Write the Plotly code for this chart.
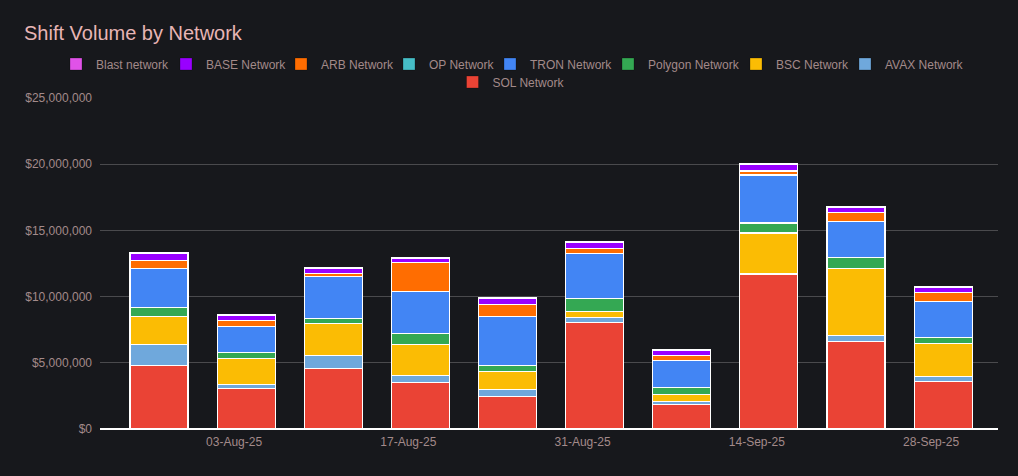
import plotly.graph_objects as go

weeks = ["27-Jul-25", "03-Aug-25", "10-Aug-25", "17-Aug-25", "24-Aug-25",
         "31-Aug-25", "07-Sep-25", "14-Sep-25", "21-Sep-25", "28-Sep-25"]
tick_weeks = ["03-Aug-25", "17-Aug-25", "31-Aug-25", "14-Sep-25", "28-Sep-25"]

sol = [4810000, 3050000, 4580000, 3530000, 2440000, 8030000, 1870000, 11710000, 6620000, 3600000]
avax = [1590000, 320000, 990000, 530000, 530000, 400000, 220000, 20000, 460000, 380000]
bsc = [2110000, 1970000, 2410000, 2340000, 1390000, 460000, 530000, 3070000, 5060000, 2490000]
polygon = [680000, 430000, 350000, 830000, 450000, 980000, 530000, 760000, 830000, 460000]
tron = [2920000, 1980000, 3170000, 3170000, 3700000, 3400000, 2040000, 3620000, 2720000, 2720000]
op = [10000, 10000, 10000, 10000, 10000, 10000, 10000, 10000, 10000, 10000]
arb = [630000, 460000, 260000, 2190000, 880000, 380000, 380000, 300000, 680000, 680000]
base = [530000, 380000, 380000, 300000, 450000, 420000, 370000, 530000, 370000, 370000]
blast = [50000, 50000, 50000, 50000, 50000, 50000, 50000, 50000, 50000, 50000]

series = [
    ("SOL Network", sol, "#ea4335"),
    ("AVAX Network", avax, "#6fa8dc"),
    ("BSC Network", bsc, "#fbbc04"),
    ("Polygon Network", polygon, "#34a853"),
    ("TRON Network", tron, "#4285f4"),
    ("OP Network", op, "#46bdc6"),
    ("ARB Network", arb, "#ff6d01"),
    ("BASE Network", base, "#9900ff"),
    ("Blast network", blast, "#e052e8"),
]

# legend swatch placement (symbol centre x, row centre y) in pixels
legend_pos = {
    "Blast network": (78, 64), "BASE Network": (188, 64), "ARB Network": (303, 64),
    "OP Network": (411, 64), "TRON Network": (512, 64), "Polygon Network": (630, 64),
    "BSC Network": (758, 64), "AVAX Network": (867, 64), "SOL Network": (474.5, 82),
}

W, H = 1018, 476
bg = "#17181c"
txt = "#a38a8a"

fig = go.Figure()
legends = {}
for i, (name, vals, color) in enumerate(series):
    key = "legend" if i == 0 else f"legend{i + 1}"
    fig.add_trace(go.Bar(
        x=weeks, y=vals, name=name, legendgroup=name, showlegend=False,
        marker=dict(color=color, line=dict(color="#ffffff", width=1.2)),
    ))
    fig.add_trace(go.Scatter(
        x=[None], y=[None], mode="markers", name=name, legendgroup=name,
        legend=key, showlegend=True,
        marker=dict(symbol="square", size=12, color=color,
                    line=dict(color="rgba(0,0,0,0.25)", width=1)),
    ))
    sx, sy = legend_pos[name]
    legends[key] = dict(
        orientation="h", xref="container", yref="container",
        x=(sx - 22) / W, xanchor="left", y=1 - sy / H, yanchor="middle",
        font=dict(size=12, color=txt), itemwidth=30,
        bgcolor="rgba(0,0,0,0)",
    )

fig.update_layout(
    barmode="stack",
    bargap=0.334,
    width=W, height=H,
    paper_bgcolor=bg, plot_bgcolor=bg,
    font=dict(family="Liberation Sans, Arial, sans-serif", size=12, color=txt),
    title=dict(text="Shift Volume by Network", x=24 / W, xanchor="left",
               y=1 - 33 / H, yanchor="middle", yref="container",
               font=dict(size=20, color="#e8b5b5")),
    margin=dict(l=100, r=20, t=98, b=47, autoexpand=False),
    showlegend=True,
    **legends,
)
fig.update_xaxes(
    type="category",
    categoryorder="array", categoryarray=weeks,
    tickvals=tick_weeks, ticktext=tick_weeks,
    range=[-0.677, 9.63],
    showgrid=False, showline=False, zeroline=False,
    ticks="", tickfont=dict(size=12, color=txt),
    ticklabelshift=-12, ticklabelstandoff=4,
)
fig.update_yaxes(
    range=[0, 25000000],
    tickvals=[0, 5000000, 10000000, 15000000, 20000000, 25000000],
    tickformat="$,.0f",
    gridcolor="#4a4a4d", gridwidth=1,
    zeroline=True, zerolinecolor="#ffffff", zerolinewidth=1.5,
    showline=False, ticks="", ticklen=0,
    tickfont=dict(size=12, color=txt),
    ticklabelstandoff=7,
)

fig.write_html("out.html", config={"displayModeBar": False},
               post_script="document.body.style.margin='0';")
